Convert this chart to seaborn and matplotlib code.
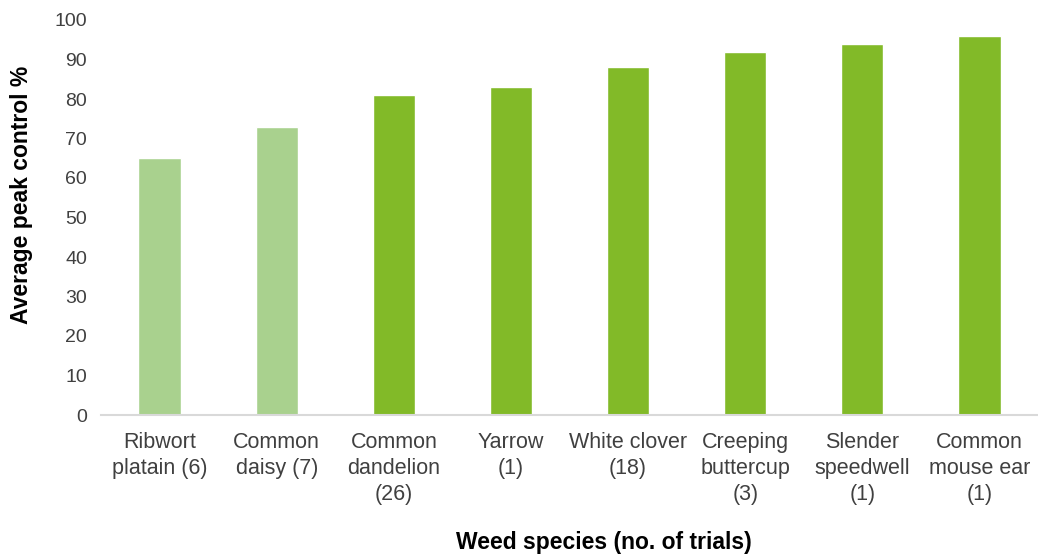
import matplotlib
matplotlib.use("Agg")
import matplotlib.pyplot as plt
import seaborn as sns
import pandas as pd

categories = ["Ribwort\nplatain (6)", "Common\ndaisy (7)", "Common\ndandelion\n(26)", "Yarrow\n(1)",
              "White clover\n(18)", "Creeping\nbuttercup\n(3)", "Slender\nspeedwell\n(1)", "Common\nmouse ear\n(1)"]
values = [65, 73, 81, 83, 88, 92, 94, 96]
groups = ["light", "light", "dark", "dark", "dark", "dark", "dark", "dark"]

sns.set_theme(style="white")
plt.rcParams['font.family'] = ['Liberation Sans', 'DejaVu Sans']

df = pd.DataFrame({"cat": categories, "val": values, "grp": groups})

fig = plt.figure(figsize=(10.38, 5.55), dpi=100)
ax = fig.add_axes([101/1038, 140/555, 937/1038, 395/555])
sns.barplot(data=df, x="cat", y="val", hue="grp", palette={"light": "#A9D18E", "dark": "#82BA28"},
            width=0.36, dodge=False, legend=False, ax=ax, saturation=1)
ax.set_ylim(0, 100)
ax.set_yticks(range(0, 101, 10))
ax.set_xlim(-0.5, 7.5)
for s in ["top", "right", "left"]:
    ax.spines[s].set_visible(False)
ax.spines["bottom"].set_color("#D9D9D9")
ax.spines["bottom"].set_linewidth(1.5)
ax.tick_params(axis="y", length=0, labelsize=14, colors="#404040", pad=10)
ax.tick_params(axis="x", length=0, labelsize=15.5, colors="#404040", pad=12)
for t in ax.get_xticklabels():
    t.set_linespacing(1.33)
ax.set_xlabel("Weed species (no. of trials)", fontsize=16.5, fontweight="bold", color="black")
ax.set_ylabel("Average peak control %", fontsize=16.5, fontweight="bold", color="black")
ax.xaxis.set_label_coords(0.537, -127/395, transform=ax.transAxes)
ax.yaxis.set_label_coords(-79/937, 0.557, transform=ax.transAxes)
ax.xaxis.label.set_va("center")
ax.yaxis.label.set_va("center")
fig.savefig("out.png", dpi=100)
